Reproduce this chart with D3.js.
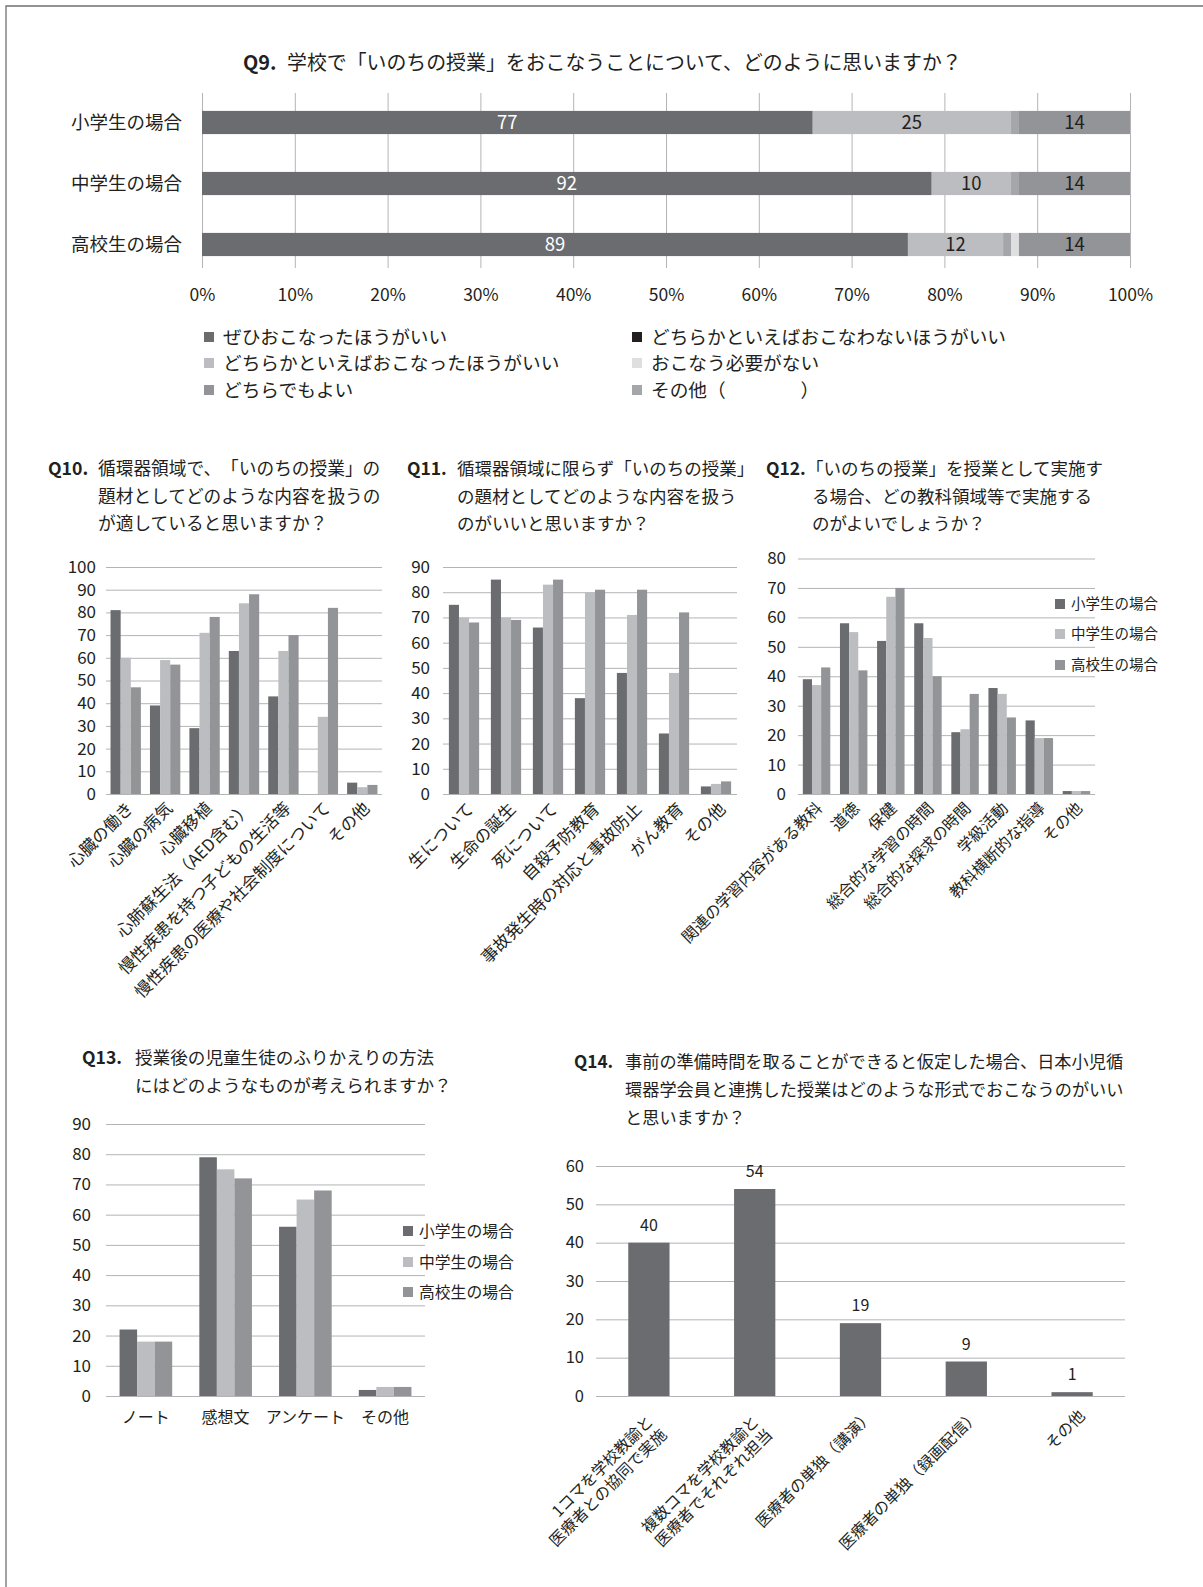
<!DOCTYPE html>
<html>
<head>
<meta charset="utf-8">
<script src="https://cdn.jsdelivr.net/npm/d3@7"></script>
<style>
  html, body { margin: 0; padding: 0; background: #fff; }
  svg { display: block; }
  text { text-spacing-trim: space-all; }
</style>
</head>
<body>
<svg id="chart" width="1203" height="1587"></svg>
<script>
// ---------- data ----------
const seriesNames = ["小学生の場合", "中学生の場合", "高校生の場合"];

// Q9: stacked 100% bars (segments listed in stacking order)
const q9Groups = ["小学生の場合", "中学生の場合", "高校生の場合"];
const q9Answers = [
  "ぜひおこなったほうがいい",
  "どちらかといえばおこなったほうがいい",
  "その他（　　　　）",
  "どちらかといえばおこなわないほうがいい",
  "おこなう必要がない",
  "どちらでもよい"
];
const q9Strongly  = [77, 92, 89];
const q9Rather    = [25, 10, 12];
const q9Other     = [1, 1, 1];
const q9RatherNot = [0, 0, 0];
const q9NoNeed    = [0, 0, 1];
const q9Either    = [14, 14, 14];
const q9TickValues = [0, 0.1, 0.2, 0.3, 0.4, 0.5, 0.6, 0.7, 0.8, 0.9, 1];
const q9LegendLeft  = ["ぜひおこなったほうがいい", "どちらかといえばおこなったほうがいい", "どちらでもよい"];
const q9LegendRight = ["どちらかといえばおこなわないほうがいい", "おこなう必要がない", "その他（　　　　）"];

// Q10
const q10Categories = ["心臓の働き", "心臓の病気", "心臓移植", "心肺蘇生法（AED含む）",
  "慢性疾患を持つ子どもの生活等", "慢性疾患の医療や社会制度について", "その他"];
const q10Elementary = [81, 39, 29, 63, 43, 0, 5];
const q10Junior     = [60, 59, 71, 84, 63, 34, 3];
const q10High       = [47, 57, 78, 88, 70, 82, 4];

// Q11
const q11Categories = ["生について", "生命の誕生", "死について", "自殺予防教育",
  "事故発生時の対応と事故防止", "がん教育", "その他"];
const q11Elementary = [75, 85, 66, 38, 48, 24, 3];
const q11Junior     = [70, 70, 83, 80, 71, 48, 4];
const q11High       = [68, 69, 85, 81, 81, 72, 5];

// Q12
const q12Categories = ["関連の学習内容がある教科", "道徳", "保健", "総合的な学習の時間",
  "総合的な探求の時間", "学級活動", "教科横断的な指導", "その他"];
const q12Elementary = [39, 58, 52, 58, 21, 36, 25, 1];
const q12Junior     = [37, 55, 67, 53, 22, 34, 19, 1];
const q12High       = [43, 42, 70, 40, 34, 26, 19, 1];

// Q13
const q13Categories = ["ノート", "感想文", "アンケート", "その他"];
const q13Elementary = [22, 79, 56, 2];
const q13Junior     = [18, 75, 65, 3];
const q13High       = [18, 72, 68, 3];

// Q14
const q14Categories = ["1コマを学校教諭と\n医療者との協同で実施", "複数コマを学校教諭と\n医療者でそれぞれ担当",
  "医療者の単独（講演）", "医療者の単独（録画配信）", "その他"];
const q14Values = [40, 54, 19, 9, 1];

// ---------- styles ----------
const FONT = "'Noto Sans CJK JP', 'Noto Sans', sans-serif";
const INK = "#231f20";
const GRID = "#b4b4b6";
const seriesColors = ["#6b6c70", "#bcbdc0", "#939497"];
const q9Colors = {
  "ぜひおこなったほうがいい": "#6b6c70",
  "どちらかといえばおこなったほうがいい": "#bcbdc0",
  "その他（　　　　）": "#a5a6a9",
  "どちらかといえばおこなわないほうがいい": "#231f20",
  "おこなう必要がない": "#dfdfe0",
  "どちらでもよい": "#939497"
};

const svg = d3.select("#chart").attr("font-family", FONT);

// page frame
svg.append("path").attr("d", "M6,1587V6H1203").attr("fill", "none").attr("stroke", "#707070").attr("stroke-width", 1.3);

// ---------- title helper ----------
function title(label, lines, xLabel, xText, y0, lineGap, size) {
  const g = svg.append("g").attr("fill", INK).attr("font-size", size);
  g.append("text").attr("x", xLabel).attr("y", y0).attr("font-weight", "bold").text(label);
  lines.forEach((t, i) => {
    g.append("text").attr("x", xText[Math.min(i, xText.length - 1)])
      .attr("y", y0 + i * lineGap).text(t);
  });
}

// ---------- Q9 ----------
(function () {
  title("Q9.", ["学校で「いのちの授業」をおこなうことについて、どのように思いますか？"],
    243, [287], 70, 0, 19.9);

  const table = q9Groups.map((g, i) => ({
    group: g,
    [q9Answers[0]]: q9Strongly[i],
    [q9Answers[1]]: q9Rather[i],
    [q9Answers[2]]: q9Other[i],
    [q9Answers[3]]: q9RatherNot[i],
    [q9Answers[4]]: q9NoNeed[i],
    [q9Answers[5]]: q9Either[i]
  }));
  const stacked = d3.stack().keys(q9Answers).offset(d3.stackOffsetExpand)(table);

  const x = d3.scaleLinear().domain([0, 1]).range([202, 1130]);
  const y = d3.scaleBand().domain(q9Groups).range([92, 275]).paddingInner(0.62).paddingOuter(0.31);
  const gridTop = 93, gridBottom = 268;

  const axis = d3.axisBottom(x).tickValues(q9TickValues).tickFormat(d3.format(".0%"))
    .tickSize(-(gridBottom - gridTop)).tickPadding(21);
  const ag = svg.append("g").attr("transform", `translate(0,${gridBottom})`).call(axis);
  ag.select(".domain").remove();
  ag.selectAll(".tick line").attr("stroke", GRID);
  ag.selectAll(".tick text").attr("fill", INK).attr("font-size", 17.5).attr("font-family", FONT);

  const layers = svg.append("g").selectAll("g").data(stacked).join("g")
    .attr("fill", d => q9Colors[d.key]);
  layers.selectAll("rect").data(d => d).join("rect")
    .attr("x", d => x(d[0])).attr("width", d => x(d[1]) - x(d[0]))
    .attr("y", d => y(d.data.group)).attr("height", y.bandwidth());

  // segment values
  stacked.forEach((layer, k) => {
    layer.forEach(d => {
      const v = d.data[layer.key];
      if (v < 5) return;
      svg.append("text")
        .attr("x", (x(d[0]) + x(d[1])) / 2).attr("y", y(d.data.group) + y.bandwidth() / 2)
        .attr("dy", "0.35em").attr("text-anchor", "middle").attr("font-size", 18.5)
        .attr("fill", k === 0 ? "#ffffff" : INK).text(v);
    });
  });

  // group labels
  svg.append("g").selectAll("text").data(q9Groups).join("text")
    .attr("x", 182).attr("y", d => y(d) + y.bandwidth() / 2).attr("dy", "0.35em")
    .attr("text-anchor", "end").attr("font-size", 18.5).attr("fill", INK).text(d => d);

  // legend
  const rows = [337, 363, 390];
  [[q9LegendLeft, 204], [q9LegendRight, 632]].forEach(([items, lx]) => {
    items.forEach((name, i) => {
      svg.append("rect").attr("x", lx).attr("y", rows[i] - 5).attr("width", 10).attr("height", 10)
        .attr("fill", q9Colors[name]);
      svg.append("text").attr("x", lx + 19).attr("y", rows[i]).attr("dy", "0.35em")
        .attr("font-size", 18.7).attr("fill", INK).text(name);
    });
  });
})();

// ---------- grouped column helper ----------
function columns(o) {
  const g = svg.append("g");
  const x = d3.scaleBand().domain(o.categories).range([o.left, o.right])
    .paddingInner(o.gap).paddingOuter(o.gap / 2);
  const inner = d3.scaleBand().domain(d3.range(o.series.length)).range([0, x.bandwidth()]);
  const y = d3.scaleLinear().domain([0, o.max]).range([o.bottom, o.top]);

  const axis = d3.axisLeft(y).tickValues(d3.range(0, o.max + 1, o.step))
    .tickSize(-(o.right - o.left)).tickPadding(o.tickPad);
  const ag = g.append("g").attr("transform", `translate(${o.left},0)`).call(axis);
  ag.select(".domain").remove();
  ag.selectAll(".tick line").attr("stroke", GRID);
  ag.selectAll(".tick text").attr("fill", INK).attr("font-size", o.tickFont).attr("font-family", FONT);

  o.series.forEach((vals, s) => {
    g.append("g").attr("fill", o.colors[s]).selectAll("rect").data(o.categories).join("rect")
      .attr("x", c => x(c) + inner(s)).attr("width", inner.bandwidth())
      .attr("y", (c, i) => y(vals[i])).attr("height", (c, i) => o.bottom - y(vals[i]));
  });

  if (o.rotate) {
    // labels run up-right at 45°, their ends tucked under each category's centre
    const lh = o.labelFont * 1.2;
    o.categories.forEach(c => {
      const lines = c.split("\n");
      const multi = lines.length > 1;
      const u = multi ? o.multiU : o.labU;
      const v = multi ? o.multiV : o.labV;
      const t = g.append("text")
        .attr("transform", `translate(${x(c) + x.bandwidth() / 2},${o.bottom}) rotate(-45)`)
        .attr("text-anchor", "end").attr("font-size", o.labelFont).attr("fill", INK);
      lines.forEach((line, k) => {
        t.append("tspan").attr("x", u).attr("y", v + k * lh).attr("dy", "0.35em").text(line);
      });
    });
  } else {
    g.append("g").selectAll("text").data(o.categories).join("text")
      .attr("x", c => x(c) + x.bandwidth() / 2).attr("y", o.bottom + o.labV).attr("dy", "0.35em")
      .attr("text-anchor", "middle").attr("font-size", o.labelFont).attr("fill", INK).text(c => c);
  }

  if (o.valueLabels) {
    g.append("g").selectAll("text").data(o.categories).join("text")
      .attr("x", c => x(c) + x.bandwidth() / 2).attr("y", (c, i) => y(o.series[0][i]) - 12)
      .attr("text-anchor", "middle").attr("font-size", o.valueFont).attr("fill", INK)
      .text((c, i) => o.series[0][i]);
  }

  if (o.legend) {
    o.legend.rows.forEach((ry, i) => {
      g.append("rect").attr("x", o.legend.x).attr("y", ry - 5).attr("width", 10).attr("height", 10)
        .attr("fill", o.colors[i]);
      g.append("text").attr("x", o.legend.x + 16).attr("y", ry).attr("dy", "0.35em")
        .attr("font-size", o.legend.font).attr("fill", INK).text(seriesNames[i]);
    });
  }
}

// ---------- Q10 ----------
title("Q10.", ["循環器領域で、「いのちの授業」の", "題材としてどのような内容を扱うの", "が適していると思いますか？"],
  48, [98], 475, 27.5, 17.7);
columns({
  categories: q10Categories, series: [q10Elementary, q10Junior, q10High], colors: seriesColors,
  left: 106, right: 382, top: 567, bottom: 794, max: 100, step: 10, gap: 0.23,
  tickPad: 10, tickFont: 17, rotate: true, labelFont: 16.8, labU: -5, labV: 11
});

// ---------- Q11 ----------
title("Q11.", ["循環器領域に限らず「いのちの授業」", "の題材としてどのような内容を扱う", "のがいいと思いますか？"],
  407, [457], 475, 27.5, 17.5);
columns({
  categories: q11Categories, series: [q11Elementary, q11Junior, q11High], colors: seriesColors,
  left: 443, right: 737, top: 567, bottom: 794, max: 90, step: 10, gap: 0.28,
  tickPad: 13, tickFont: 17, rotate: true, labelFont: 16.8, labU: -4, labV: 13
});

// ---------- Q12 ----------
title("Q12.", ["「いのちの授業」を授業として実施す", "る場合、どの教科領域等で実施する", "のがよいでしょうか？"],
  766, [806, 812], 475, 27.5, 17.5);
columns({
  categories: q12Categories, series: [q12Elementary, q12Junior, q12High], colors: seriesColors,
  left: 798, right: 1095, top: 558.5, bottom: 794, max: 80, step: 10, gap: 0.26,
  tickPad: 12, tickFont: 17, rotate: true, labelFont: 15.9, labU: -6, labV: 10,
  legend: { x: 1055, rows: [604, 634, 665], font: 14.5 }
});

// ---------- Q13 ----------
title("Q13.", ["授業後の児童生徒のふりかえりの方法", "にはどのようなものが考えられますか？"],
  82, [135], 1064, 27.5, 17.6);
columns({
  categories: q13Categories, series: [q13Elementary, q13Junior, q13High], colors: seriesColors,
  left: 106, right: 425, top: 1124, bottom: 1396, max: 90, step: 10, gap: 0.34,
  tickPad: 15, tickFont: 17, rotate: false, labelFont: 16, labV: 21,
  legend: { x: 403, rows: [1231, 1262, 1292], font: 15.8 }
});

// ---------- Q14 ----------
title("Q14.", ["事前の準備時間を取ることができると仮定した場合、日本小児循", "環器学会員と連携した授業はどのような形式でおこなうのがいい", "と思いますか？"],
  574, [625], 1068, 28, 17.2);
columns({
  categories: q14Categories, series: [q14Values], colors: ["#6b6c70"],
  left: 596, right: 1125, top: 1166, bottom: 1396, max: 60, step: 10, gap: 0.61,
  tickPad: 12, tickFont: 16.5, rotate: true, labelFont: 15.8,
  labU: -5, labV: 19, multiU: -15, multiV: 17,
  valueLabels: true, valueFont: 16
});
</script>
</body>
</html>
